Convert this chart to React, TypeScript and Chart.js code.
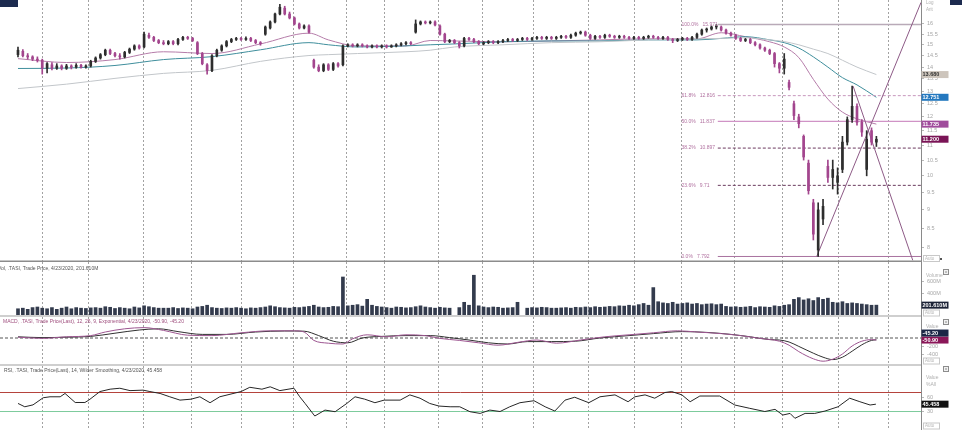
import { useEffect, useRef } from 'react';
import { Chart, registerables } from 'chart.js';

Chart.register(...registerables);

// ---------------- DATA ----------------
// one candle per two trading sessions, index 0..177
const openP = [
  14.55, 14.7, 14.5, 14.45, 14.35, 14.3, 13.95, 14.1, 13.95, 14.05,
  13.95, 14.05, 14.0, 14.08, 14.0, 14.05, 14.25, 14.4, 14.55, 14.75,
  14.6, 14.5, 14.45, 14.65, 14.8, 14.95, 14.9, 15.45, 15.35, 15.2,
  15.1, 15.05, 15.15, 15.05, 15.25, 15.35, 15.3, 15.1, 14.6, 14.1,
  13.85, 14.5, 14.75, 14.95, 15.15, 15.25, 15.3, 15.25, 15.3, 15.2,
  15.1, 15.5, 15.8, 16.1, 16.5, 16.8, 16.5, 16.3, 16.0, 15.8,
  15.9, 14.3, 14.0, 13.85, 14.1, 13.9, 14.15, 14.1, 14.95, 15.0,
  14.95, 15.0, 14.95, 14.9, 14.95, 14.9, 14.95, 14.9, 14.95, 15.0,
  15.05, 15.1, 15.6, 16.0, 16.1, 16.05, 16.1, 15.9, 15.5, 15.15,
  15.2, 15.1, 14.95, 15.3, 15.25, 15.15, 15.05, 15.1, 15.15, 15.1,
  15.15, 15.2, 15.25, 15.2, 15.25, 15.3, 15.25, 15.3, 15.35, 15.3,
  15.35, 15.3, 15.35, 15.4, 15.35, 15.45, 15.55, 15.6, 15.45, 15.3,
  15.4, 15.35, 15.45, 15.4, 15.35, 15.4, 15.35, 15.3, 15.35, 15.3,
  15.35, 15.4, 15.35, 15.3, 15.35, 15.25, 15.2, 15.25, 15.3, 15.25,
  15.35, 15.5, 15.7, 15.75, 15.85, 15.85, 15.7, 15.55, 15.45, 15.3,
  15.2, 15.25, 15.1, 15.0, 14.85, 14.75, 14.6, 14.15, 13.95, 13.35,
  12.5, 12.0, 11.3, 10.4, 9.2, 7.95, 8.75, 10.3, 9.95, 9.8,
  10.2, 11.1, 11.9, 12.4, 11.8, 10.2, 11.5, 11.1,
];
const highP = [
  14.9, 14.78, 14.6, 14.5, 14.45, 14.35, 14.2, 14.2, 14.15, 14.1,
  14.12, 14.1, 14.15, 14.12, 14.1, 14.3, 14.45, 14.6, 14.8, 14.8,
  14.65, 14.6, 14.7, 14.85, 15.0, 15.0, 15.6, 15.55, 15.4, 15.25,
  15.2, 15.2, 15.2, 15.3, 15.4, 15.4, 15.35, 15.15, 14.65, 14.15,
  14.55, 14.8, 15.0, 15.2, 15.3, 15.35, 15.35, 15.38, 15.35, 15.25,
  15.15, 15.9, 16.15, 16.55, 17.0, 16.9, 16.6, 16.35, 16.05, 15.95,
  15.95, 14.35, 14.1, 14.15, 14.15, 14.2, 14.2, 15.0, 15.05, 15.05,
  15.05, 15.05, 15.0, 15.0, 15.0, 15.0, 15.0, 15.0, 15.05, 15.1,
  15.15, 15.15, 16.2, 16.15, 16.15, 16.15, 16.15, 15.95, 15.55, 15.25,
  15.25, 15.15, 15.35, 15.35, 15.3, 15.2, 15.15, 15.2, 15.2, 15.2,
  15.25, 15.3, 15.3, 15.3, 15.35, 15.35, 15.35, 15.4, 15.4, 15.4,
  15.4, 15.4, 15.45, 15.45, 15.5, 15.6, 15.65, 15.65, 15.5, 15.45,
  15.45, 15.5, 15.5, 15.45, 15.45, 15.45, 15.4, 15.4, 15.4, 15.4,
  15.45, 15.45, 15.4, 15.4, 15.4, 15.3, 15.3, 15.35, 15.35, 15.4,
  15.55, 15.75, 15.8, 15.9, 15.97, 15.9, 15.75, 15.6, 15.5, 15.35,
  15.3, 15.3, 15.15, 15.05, 14.9, 14.8, 14.65, 14.2, 14.6, 13.45,
  12.6, 12.1, 11.35, 10.5, 9.3, 9.2, 9.3, 10.5, 10.5, 10.25,
  11.3, 12.0, 13.2, 12.5, 11.9, 11.5, 11.6, 11.3,
];
const lowP = [
  14.45, 14.45, 14.35, 14.28, 14.22, 13.7, 13.75, 13.88, 13.9, 13.88,
  13.9, 13.92, 13.95, 13.95, 13.95, 14.0, 14.2, 14.35, 14.5, 14.55,
  14.45, 14.35, 14.4, 14.6, 14.75, 14.8, 14.85, 15.3, 15.15, 15.05,
  15.0, 15.0, 15.0, 15.0, 15.2, 15.25, 15.15, 14.55, 14.1, 13.7,
  13.8, 14.45, 14.7, 14.9, 15.1, 15.2, 15.2, 15.2, 15.15, 15.05,
  14.98, 15.45, 15.75, 16.05, 16.45, 16.45, 16.25, 15.95, 15.75, 15.75,
  15.55, 13.95, 13.8, 13.8, 13.85, 13.85, 14.0, 14.05, 14.9, 14.9,
  14.9, 14.9, 14.85, 14.85, 14.85, 14.85, 14.85, 14.88, 14.9, 14.95,
  15.0, 15.0, 15.55, 15.95, 16.0, 16.0, 15.9, 15.45, 15.1, 15.1,
  15.05, 14.85, 14.9, 15.2, 15.1, 15.0, 15.0, 15.05, 15.05, 15.05,
  15.1, 15.15, 15.15, 15.15, 15.2, 15.2, 15.2, 15.25, 15.25, 15.25,
  15.25, 15.25, 15.3, 15.3, 15.3, 15.4, 15.5, 15.4, 15.25, 15.25,
  15.3, 15.3, 15.35, 15.3, 15.3, 15.3, 15.25, 15.25, 15.25, 15.25,
  15.3, 15.3, 15.25, 15.25, 15.2, 15.1, 15.15, 15.2, 15.2, 15.2,
  15.3, 15.45, 15.6, 15.7, 15.75, 15.65, 15.5, 15.4, 15.25, 15.15,
  15.15, 15.05, 14.95, 14.8, 14.7, 14.55, 14.0, 13.75, 13.7, 13.05,
  11.9, 11.6, 10.5, 9.45, 8.2, 7.792, 8.6, 9.8, 9.6, 9.45,
  10.1, 11.0, 11.8, 11.7, 11.3, 10.0, 11.0, 10.95,
];
const closeP = [
  14.75, 14.5, 14.45, 14.35, 14.3, 13.95, 14.15, 13.95, 14.05, 13.95,
  14.05, 14.0, 14.08, 14.0, 14.05, 14.25, 14.4, 14.55, 14.75, 14.6,
  14.5, 14.45, 14.65, 14.8, 14.95, 14.85, 15.5, 15.35, 15.2, 15.1,
  15.05, 15.15, 15.05, 15.25, 15.35, 15.3, 15.2, 14.6, 14.15, 13.85,
  14.5, 14.75, 14.95, 15.15, 15.25, 15.3, 15.25, 15.3, 15.2, 15.1,
  15.05, 15.85, 16.1, 16.5, 16.85, 16.5, 16.3, 16.0, 15.8, 15.9,
  15.6, 14.0, 13.85, 14.1, 13.9, 14.15, 14.05, 14.95, 15.0, 14.95,
  15.0, 14.95, 14.9, 14.95, 14.9, 14.95, 14.9, 14.95, 15.0, 15.05,
  15.1, 15.05, 16.0, 16.1, 16.05, 16.1, 15.95, 15.5, 15.15, 15.2,
  15.1, 14.95, 15.3, 15.25, 15.15, 15.05, 15.1, 15.15, 15.1, 15.15,
  15.2, 15.25, 15.2, 15.25, 15.3, 15.25, 15.3, 15.35, 15.3, 15.35,
  15.3, 15.35, 15.4, 15.35, 15.45, 15.55, 15.6, 15.45, 15.3, 15.4,
  15.35, 15.45, 15.4, 15.35, 15.4, 15.35, 15.3, 15.35, 15.3, 15.35,
  15.4, 15.35, 15.3, 15.35, 15.25, 15.2, 15.25, 15.3, 15.25, 15.35,
  15.5, 15.7, 15.75, 15.85, 15.9, 15.7, 15.55, 15.45, 15.3, 15.2,
  15.25, 15.1, 15.0, 14.85, 14.75, 14.6, 14.15, 13.95, 14.35, 13.15,
  12.05, 11.75, 10.6, 9.55, 8.35, 9.0, 9.1, 9.95, 10.2, 10.0,
  11.1, 11.9, 12.4, 11.8, 11.45, 11.2, 11.1, 11.2,
];
// volume in millions
const volumeM = [
  140, 150, 130, 160, 170, 150, 140, 160, 130, 150,
  170, 140, 160, 150, 145, 155, 160, 150, 175, 165,
  145, 160, 150, 140, 170, 155, 190, 175, 160, 150,
  150, 150, 160, 145, 155, 150, 140, 170, 180, 200,
  160, 150, 145, 155, 150, 160, 150, 140, 155, 150,
  160, 170, 190, 175, 160, 155, 150, 165, 160, 170,
  180, 200, 170, 160, 165, 180, 175, 680, 190, 200,
  210, 185, 300, 200, 180, 170, 160, 150, 170, 165,
  155, 160, 175, 190, 170, 160, 150, 165, 155, 150,
  0, 160, 250, 200, 710, 190, 170, 160, 170, 165,
  150, 155, 160, 250, 0, 150, 160, 155, 165, 160,
  150, 150, 155, 160, 150, 165, 160, 170, 160, 175,
  165, 170, 180, 175, 190, 185, 200, 190, 210, 230,
  200, 500, 260, 240, 230, 250, 220, 230, 240, 220,
  230, 210, 220, 225, 210, 220, 180, 170, 175, 165,
  170, 180, 160, 175, 170, 165, 190, 180, 200, 210,
  300, 330, 290, 310, 280, 330, 300, 320, 250, 240,
  260, 230, 240, 230, 220, 210, 200, 201.61,
];
// moving averages (sampled at candle indices)
const maIdx = [0, 10, 20, 30, 40, 50, 60, 64, 70, 80, 85, 90, 100, 110, 120, 130, 140, 145, 150, 155, 158, 161, 164, 167, 170, 173, 177];
const maFast = [14.37, 14.2, 14.33, 14.68, 14.6, 15.04, 15.55, 15.23, 14.95, 14.95, 15.2, 15.18, 15.14, 15.18, 15.23, 15.28, 15.28, 15.57, 15.38, 15.14, 14.9, 14.42, 13.48, 12.68, 12.18, 11.93, 11.735];
const maMid = [13.94, 13.96, 14.07, 14.33, 14.46, 14.77, 15.1, 15.0, 14.9, 14.95, 15.0, 15.04, 15.14, 15.18, 15.18, 15.23, 15.23, 15.3, 15.38, 15.23, 15.1, 14.85, 14.45, 14.0, 13.55, 13.25, 12.751];
const maSlow = [13.1, 13.28, 13.52, 13.73, 13.86, 14.25, 14.51, 14.55, 14.6, 14.68, 14.75, 14.9, 15.0, 15.1, 15.14, 15.23, 15.28, 15.3, 15.33, 15.23, 15.15, 15.0, 14.8, 14.6, 14.3, 14.0, 13.68];
// Fibonacci retracement
const fibLevels = [15.971, 12.816, 11.837, 10.897, 9.71, 7.792];
const fibPct = ['100.0%', '61.8%', '50.0%', '38.2%', '23.6%', '0.0%'];
const fibText = ['15.971', '12.816', '11.837', '10.897', '9.71', '7.792'];
const fibSpanX = [144.3, 186.2];
// trend lines
const trendUpX = [164.7, 186.2];
const trendUpY = [7.792, 17.1];
const trendDownX = [172.2, 184.5];
const trendDownY = [13.2, 7.7];
// MACD 12,26,9
const macdIdx = [0, 5, 10, 15, 18, 22, 26, 30, 35, 40, 46, 52, 57, 59, 61, 64, 67, 69, 72, 76, 80, 84, 87, 91, 95, 99, 103, 107, 111, 116, 121, 126, 131, 136, 140, 145, 149, 153, 157, 159, 161, 164, 166, 168, 170, 172, 174, 176, 177];
const macdVal = [20, -10, 30, 60, 150, 230, 260, 190, 70, 60, 130, 180, 180, 150, -60, -130, -150, -20, 80, 30, 80, 60, -10, -60, -120, -180, -110, -50, -130, -50, 30, 80, 130, 180, 150, 110, 60, -10, -80, -180, -340, -520, -580, -530, -400, -200, -80, -40, -50.9];
const signalIdx = [0, 5, 10, 15, 20, 25, 29, 33, 38, 43, 49, 55, 59, 62, 65, 68, 71, 75, 80, 85, 89, 93, 97, 101, 105, 110, 115, 120, 126, 131, 137, 142, 147, 151, 155, 157, 159, 161, 164, 166, 168, 170, 172, 174, 176, 177];
const signalVal = [30, 10, 20, 40, 120, 200, 230, 160, 90, 90, 150, 175, 170, 60, -80, -120, 0, 40, 60, 60, 10, -50, -120, -150, -90, -90, -80, 0, 60, 110, 160, 140, 90, 30, -40, -50, -100, -210, -380, -480, -540, -480, -330, -170, -60, -45.2];
// RSI 14
const rsiIdx = [0, 1.4, 3.1, 5.2, 6.6, 8.7, 9.7, 11.8, 13.8, 14.6, 16.9, 19, 21, 23.1, 25.8, 27.2, 29.3, 31.3, 33.4, 35.7, 37.5, 39.6, 41.6, 46, 47.8, 50.3, 52, 54, 56.9, 58.1, 59.2, 61.2, 63.3, 65.4, 67.8, 69.5, 71.5, 73.6, 75.5, 78.8, 80.8, 82.9, 84.9, 86.8, 89.1, 91.1, 93.2, 95.3, 97.3, 99.4, 101.4, 103.5, 106.4, 108.7, 110.7, 112.8, 114.8, 117.7, 120, 123.1, 125.8, 127.2, 129.3, 131.3, 133.4, 134.8, 136.9, 138.6, 140.6, 144.7, 147.8, 150.9, 154, 156.1, 157.7, 159.2, 160.2, 162.3, 164.3, 166.4, 169.1, 171.5, 173.6, 175.7, 176.9];
const rsiVal = [47, 40, 44, 59, 61, 61, 68, 49, 49, 54, 72, 77, 79, 74, 75, 72, 68, 61, 54, 56, 61, 48.5, 61, 72, 81, 77, 82, 74, 79, 61, 47, 20.5, 33, 29.6, 47, 61, 56, 48.5, 54, 54, 65, 58, 47, 41.5, 40, 40, 29.6, 26, 33, 30, 40, 48.5, 52.7, 40, 31, 54, 60, 48.5, 61, 65, 50.6, 61, 65, 58, 70, 72, 65, 50.6, 62.6, 62.6, 43.7, 36.7, 30, 34.6, 22.6, 26, 15.7, 26, 26, 31, 40, 58, 50.6, 43.7, 45.458];
const rsiBands = [70, 30];
// month boundaries (vertical grid) in candle-index units
const monthGrid = [5.15, 14.6, 25.8, 35.7, 46.0, 56.9, 67.8, 75.5, 86.8, 95.7, 106.4, 117.7, 127.2, 136.9, 147.8, 157.7, 169.1, 179.6];
// axis tick labels
const priceTicks = [8, 8.5, 9, 9.5, 10, 10.5, 11, 11.5, 12, 12.5, 13, 13.5, 14, 14.5, 15, 15.5, 16];
const volTicks = [400, 600];
const macdTicks = [-400, -200];
const rsiTicks = [30, 60];
// last values shown on the axes
const priceLast = [13.68, 12.751, 11.735, 11.2];
const priceLastText = ['13.680', '12.751', '11.735', '11.200'];
const volLast = 201.61;
const macdLast = [-45.2, -50.9];
const rsiLast = 45.458;

const volTitle = 'Vol, .TASI, Trade Price, 4/23/2020, 201.610M';
const macdTitle = 'MACD, .TASI, Trade Price(Last), 12, 26, 9, Exponential, 4/23/2020, -50.90, -45.20';
const rsiTitle = 'RSI, .TASI, Trade Price(Last), 14, Wilder Smoothing, 4/23/2020, 45.458';

// ---------------- STYLE / HELPERS ----------------
const X_MIN = -3.71;
const X_MAX = 186.2;
const W = 962;
const PLOT_R = 921;
const FONT = '"Liberation Sans", "DejaVu Sans", sans-serif';
const UP = '#2e2e2e';
const DOWN = '#a3468e';
const idx = closeP.map((_, i) => i);
const candleColor = idx.map((i) => (closeP[i] >= openP[i] ? UP : DOWN));

function xAxis(): any {
  return {
    type: 'linear',
    min: X_MIN,
    max: X_MAX,
    offset: false,
    afterBuildTicks: (s: any) => {
      s.ticks = monthGrid.map((v) => ({ value: v }));
    },
    afterFit: (s: any) => {
      s.height = 0;
      s.paddingLeft = 0;
      s.paddingRight = 0;
    },
    ticks: { display: false },
    grid: { color: '#a2a2a2', lineWidth: 1, drawTicks: false, offset: false },
    border: { display: false, dash: [2, 2] },
  };
}

function yAxis(type: string, min: number, max: number, ticks: number[], fmt: (v: number) => string): any {
  return {
    type,
    position: 'right',
    min,
    max,
    beginAtZero: false,
    afterBuildTicks: (s: any) => {
      s.ticks = ticks.map((v) => ({ value: v }));
    },
    afterFit: (s: any) => {
      s.width = W - PLOT_R;
      s.paddingTop = 0;
      s.paddingBottom = 0;
    },
    ticks: {
      autoSkip: false,
      color: '#a6a6a6',
      font: { size: 5.5, family: FONT },
      padding: 3,
      callback: (v: any) => fmt(Number(v)),
    },
    grid: { drawOnChartArea: false, drawTicks: true, tickLength: 3, color: '#b8b8b8' },
    border: { display: true, color: '#8a8a8a', width: 1 },
  };
}

function lineDs(xs: number[], ys: number[], color: string, extra: any = {}): any {
  return {
    type: 'line',
    data: xs.map((x, k) => ({ x, y: ys[k] })),
    borderColor: color,
    borderWidth: 1,
    pointRadius: 0,
    fill: false,
    ...extra,
  };
}

function txt(ctx: CanvasRenderingContext2D, s: string, x: number, y: number, color: string, size = 5, weight = '') {
  ctx.font = `${weight} ${size}px ${FONT}`;
  ctx.fillStyle = color;
  ctx.textAlign = 'left';
  ctx.textBaseline = 'middle';
  ctx.fillText(s, x, y);
}
function tag(ctx: CanvasRenderingContext2D, s: string, y: number, bg: string, fg: string) {
  ctx.fillStyle = bg;
  ctx.fillRect(PLOT_R + 0.5, y - 3.5, 27, 7);
  txt(ctx, s, PLOT_R + 1.5, y + 0.3, fg, 5.5, 'bold');
}
function autoBox(ctx: CanvasRenderingContext2D, y: number) {
  ctx.strokeStyle = '#c8c8c8';
  ctx.lineWidth = 1;
  ctx.strokeRect(PLOT_R + 2.5, y - 3, 16, 6);
  txt(ctx, 'Auto', PLOT_R + 4, y, '#b4b4b4', 4.5);
}
function icon(ctx: CanvasRenderingContext2D, x: number, y: number) {
  ctx.fillStyle = '#f1f1f1';
  ctx.fillRect(x, y, 6, 6);
  ctx.strokeStyle = '#8c8c8c';
  ctx.lineWidth = 1;
  ctx.strokeRect(x + 0.5, y + 0.5, 5, 5);
  ctx.beginPath();
  ctx.moveTo(x + 2, y + 3);
  ctx.lineTo(x + 4, y + 3);
  ctx.stroke();
}
function hline(ctx: CanvasRenderingContext2D, y: number, color: string, w: number) {
  ctx.strokeStyle = color;
  ctx.lineWidth = w;
  ctx.beginPath();
  ctx.moveTo(0, y);
  ctx.lineTo(PLOT_R, y);
  ctx.stroke();
}

function overlay(id: string, draw: (chart: any, ctx: CanvasRenderingContext2D) => void): any {
  return {
    id,
    afterDraw(chart: any) {
      const ctx = chart.ctx;
      ctx.save();
      draw(chart, ctx);
      ctx.restore();
    },
  };
}

function baseOptions(scales: any): any {
  return {
    responsive: false,
    animation: false,
    events: [],
    layout: { padding: 0 },
    plugins: { legend: { display: false }, tooltip: { enabled: false } },
    scales,
  };
}

// ---------------- PANELS ----------------
function priceConfig(): any {
  const fibStyle = [
    { c: '#b9aab8', d: [], w: 1.5 },
    { c: '#c797bd', d: [3, 2], w: 1 },
    { c: '#d093c6', d: [], w: 1.2 },
    { c: '#6b3a5f', d: [3, 2], w: 1 },
    { c: '#6b3a5f', d: [3, 2], w: 1 },
    { c: '#a8729f', d: [], w: 1 },
  ];
  const datasets: any[] = [
    {
      type: 'bar',
      data: idx.map((i) => ({ x: i, y: [lowP[i], highP[i]] })),
      backgroundColor: candleColor,
      barThickness: 1,
      grouped: false,
      order: 0,
    },
    {
      type: 'bar',
      data: idx.map((i) => ({ x: i, y: [openP[i], closeP[i]] })),
      backgroundColor: candleColor,
      barThickness: 2,
      minBarLength: 1,
      grouped: false,
      order: 0,
    },
    lineDs(maIdx, maSlow, '#c2c6ca', { order: 3, cubicInterpolationMode: 'monotone' }),
    lineDs(maIdx, maMid, '#3f8e9c', { order: 3, cubicInterpolationMode: 'monotone' }),
    lineDs(maIdx, maFast, '#b57ca9', { order: 3, cubicInterpolationMode: 'monotone' }),
    ...fibLevels.map((lv, k) =>
      lineDs(fibSpanX, [lv, lv], fibStyle[k].c, { borderDash: fibStyle[k].d, borderWidth: fibStyle[k].w, order: 2 })
    ),
    lineDs(trendUpX, trendUpY, '#8d5a86', { order: 1 }),
    lineDs(trendDownX, trendDownY, '#8d5a86', { order: 1 }),
  ];
  const tagColors = [
    ['#cdc5bc', '#333333'],
    ['#2478bf', '#ffffff'],
    ['#a04c9c', '#ffffff'],
    ['#7a1456', '#ffffff'],
  ];
  return {
    type: 'bar',
    data: { datasets },
    options: baseOptions({
      x: xAxis(),
      y: yAxis('logarithmic', 7.66, 17.23, priceTicks, (v) => String(v)),
    }),
    plugins: [
      overlay('priceExtras', (chart, ctx) => {
        const xs = chart.scales.x;
        const ys = chart.scales.y;
        const lx = xs.getPixelForValue(136.8);
        fibLevels.forEach((lv, k) => {
          txt(ctx, `${fibPct[k]}   ${fibText[k]}`, lx, ys.getPixelForValue(lv), '#b0709f', 5);
        });
        priceLast.forEach((v, k) => tag(ctx, priceLastText[k], ys.getPixelForValue(v), tagColors[k][0], tagColors[k][1]));
        txt(ctx, 'Log', PLOT_R + 5, 3, '#b0b0b0', 4.5);
        txt(ctx, 'Arit', PLOT_R + 5, 10, '#b0b0b0', 4.5);
        autoBox(ctx, 258.5);
        ctx.fillStyle = '#555';
        ctx.fillRect(PLOT_R + 19, 258, 2, 2);
        hline(ctx, 261.3, '#8c8c8c', 1.4);
        ctx.fillStyle = '#1d2b4f';
        ctx.fillRect(0, 0, 18, 7);
        ctx.fillRect(950, 0, 12, 5);
      }),
    ],
  };
}

function volConfig(): any {
  return {
    type: 'bar',
    data: {
      datasets: [
        {
          type: 'bar',
          data: idx.map((i) => ({ x: i, y: volumeM[i] })),
          backgroundColor: '#333b4d',
          barThickness: 3,
          grouped: false,
        },
      ],
    },
    options: baseOptions({
      x: xAxis(),
      y: yAxis('linear', 0, 935, volTicks, (v) => `${v}M`),
    }),
    plugins: [
      overlay('volExtras', (chart, ctx) => {
        const ys = chart.scales.y;
        txt(ctx, volTitle, -2, 6.5, '#555555', 5);
        txt(ctx, 'Volume', PLOT_R + 5, 14, '#b0b0b0', 5);
        tag(ctx, '201.610M', ys.getPixelForValue(volLast), '#1b2236', '#ffffff');
        autoBox(ctx, 51);
        icon(ctx, 943, 7);
        hline(ctx, 54, '#cfcfcf', 2);
      }),
    ],
  };
}

function macdConfig(): any {
  return {
    type: 'line',
    data: {
      datasets: [
        lineDs([X_MIN, X_MAX], [0, 0], '#555555', { borderDash: [3, 2], order: 3 }),
        lineDs(signalIdx, signalVal, '#303030', { order: 2, cubicInterpolationMode: 'monotone' }),
        lineDs(macdIdx, macdVal, '#9c5590', { order: 1, cubicInterpolationMode: 'monotone' }),
      ],
    },
    options: baseOptions({
      x: xAxis(),
      y: yAxis('linear', -700, 525, macdTicks, (v) => String(v)),
    }),
    plugins: [
      overlay('macdExtras', (chart, ctx) => {
        const ys = chart.scales.y;
        txt(ctx, macdTitle, 3, 4.5, '#a0507f', 5);
        txt(ctx, 'Value', PLOT_R + 5, 10, '#b0b0b0', 5);
        const y0 = ys.getPixelForValue(macdLast[1]);
        tag(ctx, '-50.90', y0, '#8a1658', '#ffffff');
        tag(ctx, '-45.20', y0 - 7, '#1b2747', '#ffffff');
        autoBox(ctx, 44);
        icon(ctx, 943, 2);
        hline(ctx, 48, '#cfcfcf', 2);
      }),
    ],
  };
}

function rsiConfig(): any {
  return {
    type: 'line',
    data: {
      datasets: [
        lineDs([X_MIN, X_MAX], [rsiBands[0], rsiBands[0]], '#b5433d', { order: 3 }),
        lineDs([X_MIN, X_MAX], [rsiBands[1], rsiBands[1]], '#7dcb9c', { order: 3 }),
        lineDs(rsiIdx, rsiVal, '#262626', { order: 1 }),
      ],
    },
    options: baseOptions({
      x: xAxis(),
      y: yAxis('linear', -8.9, 125.8, rsiTicks, (v) => String(v)),
    }),
    plugins: [
      overlay('rsiExtras', (chart, ctx) => {
        const ys = chart.scales.y;
        txt(ctx, rsiTitle, 4, 4.5, '#555555', 5);
        txt(ctx, 'Value', PLOT_R + 5, 12, '#b0b0b0', 5);
        txt(ctx, '%All', PLOT_R + 5, 19, '#b0b0b0', 5);
        tag(ctx, '45.458', ys.getPixelForValue(rsiLast), '#111111', '#ffffff');
        autoBox(ctx, 60);
        icon(ctx, 943, 0);
      }),
    ],
  };
}

const panels = [
  { top: 0, h: 262, make: priceConfig },
  { top: 262, h: 55, make: volConfig },
  { top: 317, h: 49, make: macdConfig },
  { top: 366, h: 64, make: rsiConfig },
];

export default function App() {
  const refs = [
    useRef<HTMLCanvasElement>(null),
    useRef<HTMLCanvasElement>(null),
    useRef<HTMLCanvasElement>(null),
    useRef<HTMLCanvasElement>(null),
  ];
  useEffect(() => {
    const charts = panels.map((p, k) => new Chart(refs[k].current as HTMLCanvasElement, p.make()));
    return () => charts.forEach((c) => c.destroy());
  }, []);
  return (
    <div
      style={{
        position: 'fixed',
        left: 0,
        top: 0,
        width: W,
        height: 430,
        background: '#ffffff',
        overflow: 'hidden',
      }}
    >
      {panels.map((p, k) => (
        <canvas
          key={k}
          ref={refs[k]}
          width={W}
          height={p.h}
          style={{ position: 'absolute', left: 0, top: p.top, width: W, height: p.h }}
        />
      ))}
    </div>
  );
}
